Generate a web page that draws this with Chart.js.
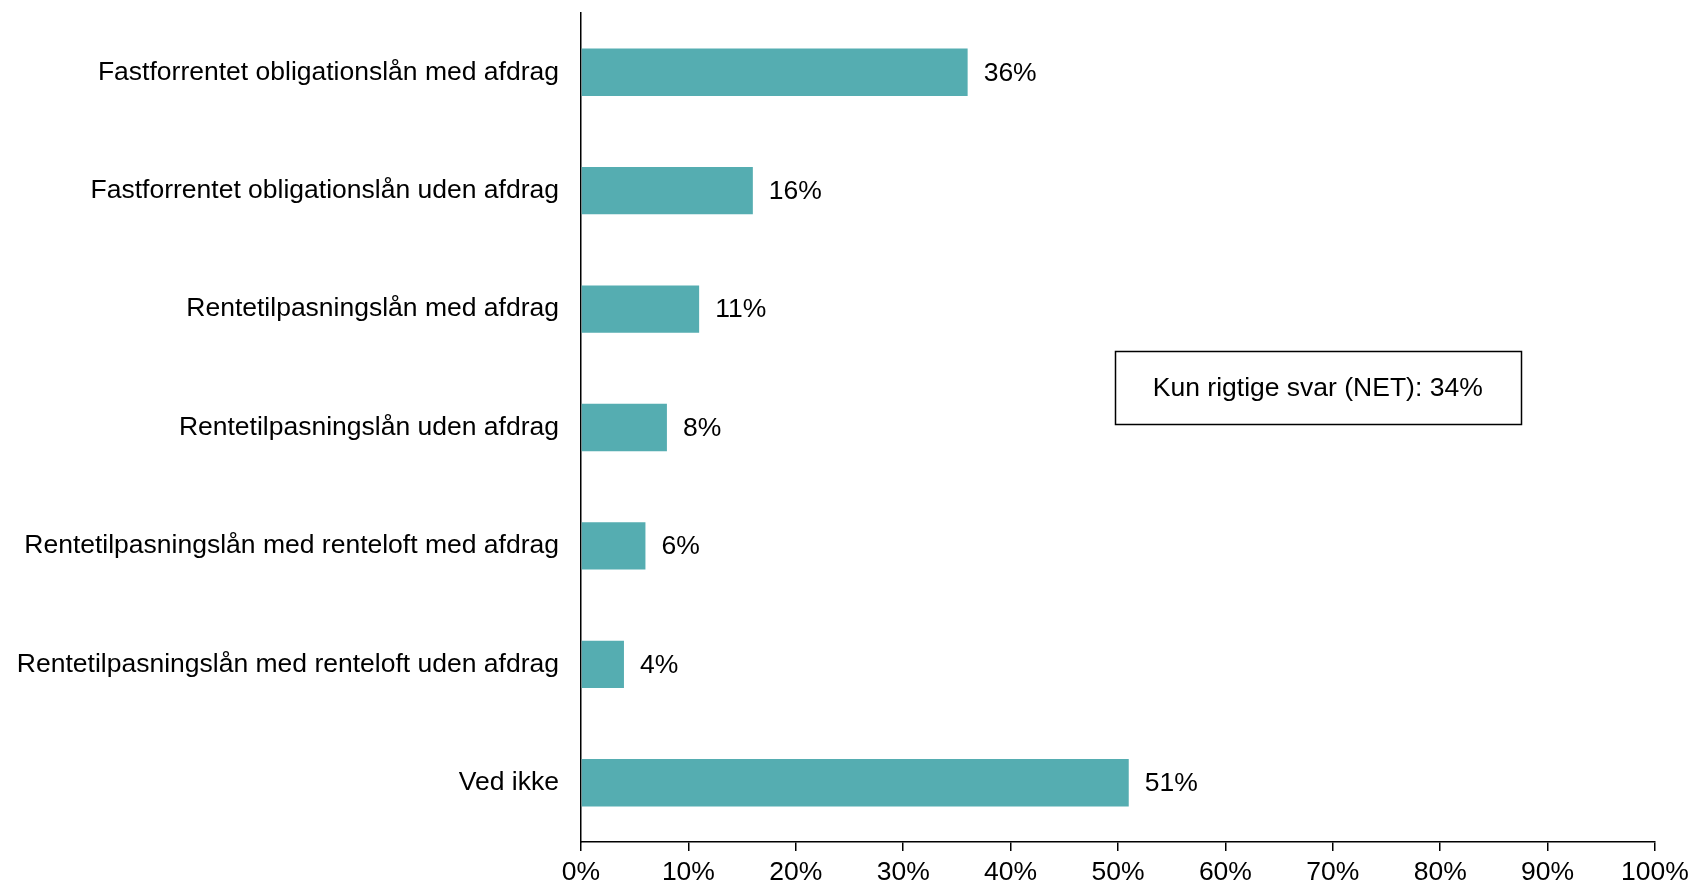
<!DOCTYPE html>
<html>
<head>
<meta charset="utf-8">
<script src="https://cdn.jsdelivr.net/npm/chart.js@4/dist/chart.umd.min.js"></script>
<style>
html,body{margin:0;padding:0;background:#fff;}
#wrap{width:1692px;height:885px;position:relative;}
</style>
</head>
<body>
<div id="wrap"><canvas id="c" width="1692" height="885"></canvas></div>
<script>
const categories = [
  "Fastforrentet obligationslån med afdrag",
  "Fastforrentet obligationslån uden afdrag",
  "Rentetilpasningslån med afdrag",
  "Rentetilpasningslån uden afdrag",
  "Rentetilpasningslån med renteloft med afdrag",
  "Rentetilpasningslån med renteloft uden afdrag",
  "Ved ikke"
];
const values = [36, 16, 11, 8, 6, 4, 51];
const xTicks = [0, 10, 20, 30, 40, 50, 60, 70, 80, 90, 100];
const noteText = "Kun rigtige svar (NET): 34%";

const FONT = "'Liberation Sans', Arial, sans-serif";
const FS = 26.5;

const labelPlugin = {
  id: 'valueLabels',
  afterDatasetsDraw(chart) {
    const ctx = chart.ctx;
    const meta = chart.getDatasetMeta(0);
    ctx.save();
    ctx.font = FS + "px " + FONT;
    ctx.fillStyle = "#000";
    ctx.textAlign = "left";
    ctx.textBaseline = "middle";
    meta.data.forEach((bar, i) => {
      ctx.fillText(values[i] + "%", bar.x + 16, bar.y + 1);
    });
    ctx.restore();
  }
};

const notePlugin = {
  id: 'noteBox',
  afterDraw(chart) {
    const ctx = chart.ctx;
    const xs = chart.scales.x, ys = chart.scales.y;
    const left = xs.getPixelForValue(49.7), right = xs.getPixelForValue(87.5);
    const top = ys.getPixelForValue(2.35), bottom = ys.getPixelForValue(2.97);
    ctx.save();
    ctx.strokeStyle = "#000";
    ctx.lineWidth = 1.5;
    ctx.strokeRect(Math.round(left) + 0.5, Math.round(top) + 0.5, Math.round(right - left), Math.round(bottom - top));
    ctx.font = FS + "px " + FONT;
    ctx.fillStyle = "#000";
    ctx.textAlign = "center";
    ctx.textBaseline = "middle";
    ctx.fillText(noteText, (left + right) / 2, (top + bottom) / 2 + 1);
    ctx.restore();
  }
};

new Chart(document.getElementById('c'), {
  type: 'bar',
  data: {
    labels: categories,
    datasets: [{
      data: values,
      backgroundColor: '#55ADB1',
      borderWidth: 0,
      barPercentage: 0.40,
      categoryPercentage: 1.0
    }]
  },
  options: {
    indexAxis: 'y',
    responsive: false,
    animation: false,
    devicePixelRatio: 1,
    layout: { padding: { top: 13, right: 37, left: 0, bottom: 0 } },
    plugins: { legend: { display: false }, tooltip: { enabled: false } },
    scales: {
      x: {
        min: 0, max: 100,
        afterBuildTicks(scale) { scale.ticks = xTicks.map(v => ({ value: v })); },
        afterFit(scale) { scale.height = 43; scale.paddingLeft = 0; scale.paddingRight = 0; },
        grid: { display: true, drawOnChartArea: false, drawTicks: true, tickLength: 9, color: '#000', lineWidth: 1.5 },
        border: { display: true, color: '#000', width: 1.5 },
        ticks: {
          color: '#000',
          font: { family: FONT, size: FS },
          padding: 6,
          maxRotation: 0,
          callback: (v) => v + '%'
        }
      },
      y: {
        afterFit(scale) { scale.width = 581; scale.paddingTop = 0; scale.paddingBottom = 0; },
        grid: { display: false },
        border: { display: true, color: '#000', width: 1.5 },
        ticks: {
          color: '#000',
          font: { family: FONT, size: FS },
          padding: 14
        }
      }
    }
  },
  plugins: [labelPlugin, notePlugin]
});
</script>
</body>
</html>
